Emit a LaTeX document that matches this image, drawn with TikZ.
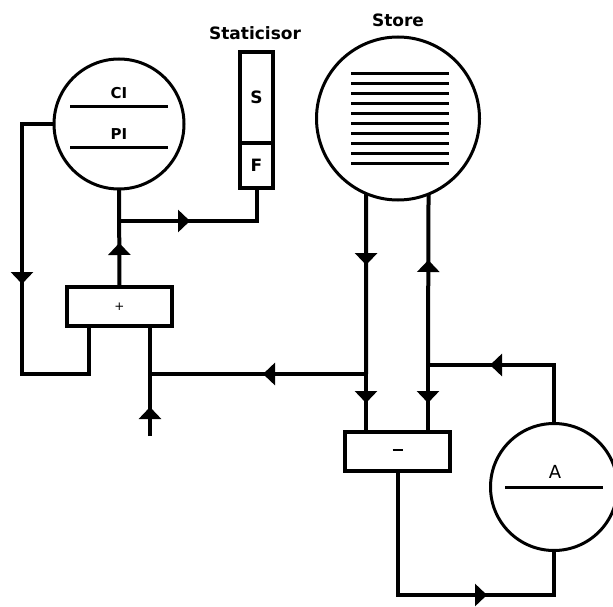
\documentclass[tikz,border=0pt]{standalone}
\usepackage{fontspec}
\newfontfamily\labfont{DejaVu Sans}
\usetikzlibrary{arrows.meta,decorations.markings}

\begin{document}
\begin{tikzpicture}[x=1pt, y=-1pt,
    wire/.style={line width=4pt},
    unit/.style={circle, draw, line width=3pt, inner sep=0pt, outer sep=0pt},
    box/.style={rectangle, draw, line width=4pt, inner sep=0pt, outer sep=0pt,
        font=\labfont\fontsize{12}{12}\selectfont},
    arr/.style={postaction={decorate}, decoration={markings,
        mark=at position #1 with {\arrow{Triangle[length=12pt,width=22pt]}}}},
    lab/.style={font=\labfont\bfseries\fontsize{#1}{#1}\selectfont, inner sep=0pt}]
  \useasboundingbox (0,0) rectangle (613,607);
  % control / present instruction
  \node[unit, minimum size=130] (cpu) at (119,124) {};
  \draw[line width=3pt] (70,107) -- (168,107);
  \draw[line width=3pt] (70,148) -- (168,148);
  \node[lab=15] (ci) at (119,93) {CI};
  \node[lab=15] (pi) at (119,134) {PI};
  % staticisor
  \node[lab=17] (stlab) at (255,33) {Staticisor};
  \node[box, minimum width=33, minimum height=91] (s) at (256.5,97.5) {};
  \node[box, minimum width=33, minimum height=45] (f) at (256.5,165.5) {};
  \node[lab=17] at (s.center) {S};
  \node[lab=17] at (f.center) {F};
  % store
  \node[lab=17] (storelab) at (398,20) {Store};
  \node[unit, minimum size=163] (store) at (398,118.5) {};
  \foreach \i in {0,...,9}
    \draw[line width=3pt] (351,{74+9.9*\i}) -- (449,{74+9.9*\i});
  % adder and subtractor
  \node[box, minimum width=105, minimum height=39] (plus) at (119.5,306.5) {+};
  \node[box, minimum width=105, minimum height=39] (minus) at (397.5,451.5) {\rule[0.5ex]{10pt}{2pt}};
  % accumulator
  \node[unit, minimum size=127] (acc) at (554,487) {};
  \draw[line width=3pt] (505,487) -- (603,487);
  \node[font=\labfont\fontsize{18}{18}\selectfont, inner sep=0pt] (alab) at (555,472) {A};

  \coordinate (j1) at (119,221);
  \coordinate (lc) at (22,374);
  \coordinate (in) at (150,436);
  \coordinate (j2) at (366,374);
  \coordinate (j3) at (428,365);
  \coordinate (ar) at (554,365);
  \coordinate (bl) at (397.5,595);

  \draw[wire, arr=44pt] (plus.north) -- (cpu.south);
  \draw[wire, arr=71pt] (j1) -| (f.south);
  \draw[wire, arr=192pt] (cpu.west) -| (lc) -| ([xshift=22pt]plus.south west);
  \draw[wire, arr=29pt] (in) -- (in |- plus.south);
  \draw[wire, arr=103pt] (j2) -- (j2 -| in);
  \draw[wire, arr=71.5pt] (store.-113) -- (j2);
  \draw[wire, arr=29pt] (j2) -- (j2 |- minus.north);
  \draw[wire, arr=105pt] (j3) -- (store.-68);
  \draw[wire, arr=38pt] (j3) -- (j3 |- minus.north);
  \draw[wire, arr=122.5pt] (acc.north) -- (ar) -- (j3);
  \draw[wire, arr=213.5pt] (minus.south) |- (bl -| acc.south) -- (acc.south);
\end{tikzpicture}
\end{document}
